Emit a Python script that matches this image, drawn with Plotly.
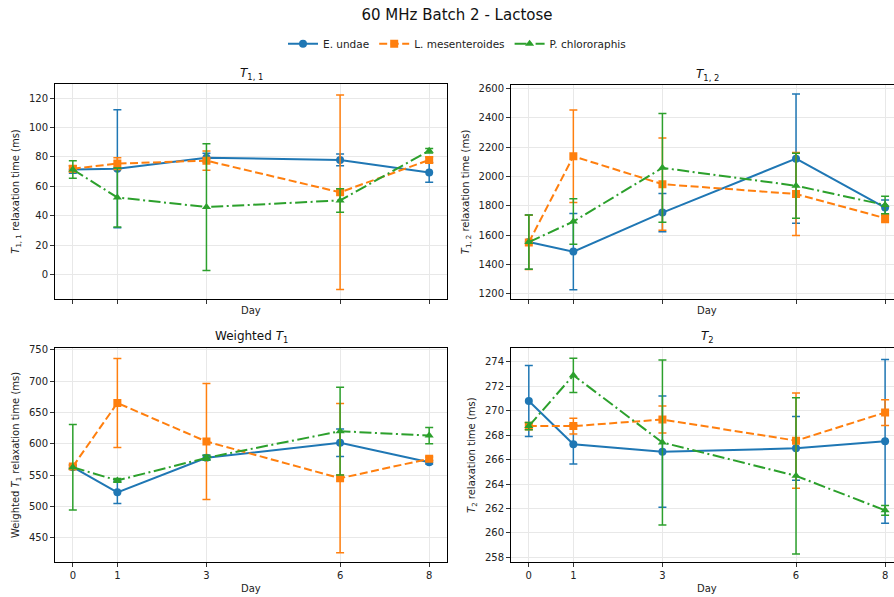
import plotly.graph_objects as go

# Sampling days
days = [0, 1, 3, 6, 8]

series_names = ["E. undae", "L. mesenteroides", "P. chlororaphis"]

# T1,1 (ms): means and standard deviations per series
t11_mean = {
    "E. undae": [71.5, 72.0, 79.5, 78.0, 69.5],
    "L. mesenteroides": [72.0, 75.5, 77.5, 56.0, 78.0],
    "P. chlororaphis": [71.5, 52.5, 46.0, 50.5, 84.2],
}
t11_err = {
    "E. undae": [2.5, 40.0, 3.0, 4.0, 6.7],
    "L. mesenteroides": [2.0, 4.0, 6.5, 66.0, 2.0],
    "P. chlororaphis": [6.0, 20.0, 43.0, 8.0, 1.5],
}

# T1,2 (ms)
t12_mean = {
    "E. undae": [1552, 1487, 1753, 2121, 1787],
    "L. mesenteroides": [1550, 2137, 1947, 1880, 1715],
    "P. chlororaphis": [1552, 1692, 2058, 1936, 1805],
}
t12_err = {
    "E. undae": [185, 260, 130, 440, 52],
    "L. mesenteroides": [185, 315, 315, 283, 30],
    "P. chlororaphis": [185, 155, 370, 222, 60],
}

# Weighted T1 (ms)
wt1_mean = {
    "E. undae": [562.5, 522.5, 577.5, 601.5, 570.5],
    "L. mesenteroides": [563.5, 665.0, 603.5, 545.0, 576.0],
    "P. chlororaphis": [562.5, 541.5, 577.5, 620.0, 613.0],
}
wt1_err = {
    "E. undae": [3.0, 18.0, 4.0, 22.0, 3.0],
    "L. mesenteroides": [3.0, 71.0, 92.5, 119.0, 3.0],
    "P. chlororaphis": [68.0, 3.0, 4.0, 70.0, 13.0],
}

# T2 (ms)
t2_mean = {
    "E. undae": [270.8, 267.25, 266.65, 266.92, 267.5],
    "L. mesenteroides": [268.74, 268.74, 269.28, 267.55, 269.85],
    "P. chlororaphis": [268.74, 272.9, 267.4, 264.67, 261.85],
}
t2_err = {
    "E. undae": [2.9, 1.6, 4.55, 2.6, 6.7],
    "L. mesenteroides": [0.3, 0.65, 1.1, 3.9, 1.05],
    "P. chlororaphis": [0.3, 1.4, 6.75, 6.4, 0.4],
}

colors = {"E. undae": "#1f77b4", "L. mesenteroides": "#ff7f0e", "P. chlororaphis": "#2ca02c"}
dashes = {"E. undae": "solid", "L. mesenteroides": "8px,3.5px", "P. chlororaphis": "12px,3.5px,2px,3.5px"}
symbols = {"E. undae": "circle", "L. mesenteroides": "square", "P. chlororaphis": "triangle-up"}

W, H = 894, 597
FONT = "DejaVu Sans"

panels = [
    # (axis suffix, means, errors, y range, dtick, title, y label, box px [x0, x1, y0, y1], title x px, ylabel x px, x range)
    ("", t11_mean, t11_err, [-16.4, 129.2], 20, "<i>T</i><sub>1, 1</sub>",
     "<i>T</i><sub>1, 1</sub> relaxation time (ms)", [55, 447, 82, 298], 251, 17, [-0.4, 8.4]),
    ("2", t12_mean, t12_err, [1164, 2620], 200, "<i>T</i><sub>1, 2</sub>",
     "<i>T</i><sub>1, 2</sub> relaxation time (ms)", [511, 894, 83, 298], 707, 466, [-0.4, 8.2]),
    ("3", wt1_mean, wt1_err, [411, 753.2], 50, "Weighted <i>T</i><sub>1</sub>",
     "Weighted <i>T</i><sub>1</sub> relaxation time (ms)", [55, 447, 347, 563], 251, 17, [-0.4, 8.4]),
    ("4", t2_mean, t2_err, [257.6, 275.16], 2, "<i>T</i><sub>2</sub>",
     "<i>T</i><sub>2</sub> relaxation time (ms)", [511, 894, 347, 563], 707, 473, [-0.4, 8.2]),
]

fig = go.Figure()
annotations = []
layout_axes = {}

for idx, (sfx, means, errs, yr, dt, title, ylab, box, tx, ylx, xr) in enumerate(panels):
    for name in series_names:
        fig.add_trace(go.Scatter(
            x=days, y=means[name],
            xaxis="x" + sfx, yaxis="y" + sfx,
            mode="lines+markers",
            name=name, legendgroup=name, showlegend=(idx == 0),
            line=dict(color=colors[name], width=2, dash=dashes[name]),
            marker=dict(symbol=symbols[name], size=8, color=colors[name]),
            error_y=dict(type="data", array=errs[name], visible=True,
                         color=colors[name], thickness=1.5, width=4),
        ))

    x0, x1, y0, y1 = box
    right_col = x1 >= W
    bottom_row = y0 > 300
    common_grid = dict(showgrid=True, gridcolor="#e8e8e8", gridwidth=1, zeroline=False,
                       showline=True, linecolor="black", linewidth=1,
                       ticks="outside", ticklen=4, tickwidth=1, tickcolor="#333",
                       tickfont=dict(family=FONT, size=10, color="#222"))
    layout_axes["xaxis" + sfx] = dict(
        common_grid,
        domain=[x0 / W, x1 / W], anchor="y" + sfx, range=xr,
        tickmode="array", tickvals=days, ticktext=[str(d) for d in days],
        showticklabels=bottom_row, mirror=True,
    )
    layout_axes["yaxis" + sfx] = dict(
        common_grid,
        domain=[1 - y1 / H, 1 - y0 / H], anchor="x" + sfx, range=yr,
        dtick=dt, tick0=0, mirror=not right_col,
    )

    annotations.append(dict(text=title, x=tx / W, y=1 - (y0 - 11) / H, xref="paper", yref="paper",
                            xanchor="center", yanchor="middle", showarrow=False,
                            font=dict(family=FONT, size=12, color="#111")))
    annotations.append(dict(text="Day", x=tx / W, y=1 - (y1 + (26 if bottom_row else 12)) / H,
                            xref="paper", yref="paper", xanchor="center", yanchor="middle",
                            showarrow=False, font=dict(family=FONT, size=10, color="#222")))
    annotations.append(dict(text=ylab, x=ylx / W, y=1 - (y0 + y1) / 2 / H, xref="paper", yref="paper",
                            xanchor="center", yanchor="middle", textangle=-90, showarrow=False,
                            font=dict(family=FONT, size=10, color="#222")))

fig.update_layout(
    width=W, height=H,
    margin=dict(l=0, r=0, t=0, b=0),
    paper_bgcolor="white", plot_bgcolor="white",
    title=dict(text="60 MHz Batch 2 - Lactose", x=457 / W, y=1 - 15 / H,
               xanchor="center", yanchor="middle",
               font=dict(family=FONT, size=15, color="#111")),
    legend=dict(orientation="h", x=457 / W, y=1 - 41 / H, xanchor="center", yanchor="middle",
                font=dict(family=FONT, size=10.5, color="#222"), itemwidth=30,
                bgcolor="rgba(0,0,0,0)"),
    annotations=annotations,
    **layout_axes,
)

fig.write_html("out.html", config={"displayModeBar": False})
